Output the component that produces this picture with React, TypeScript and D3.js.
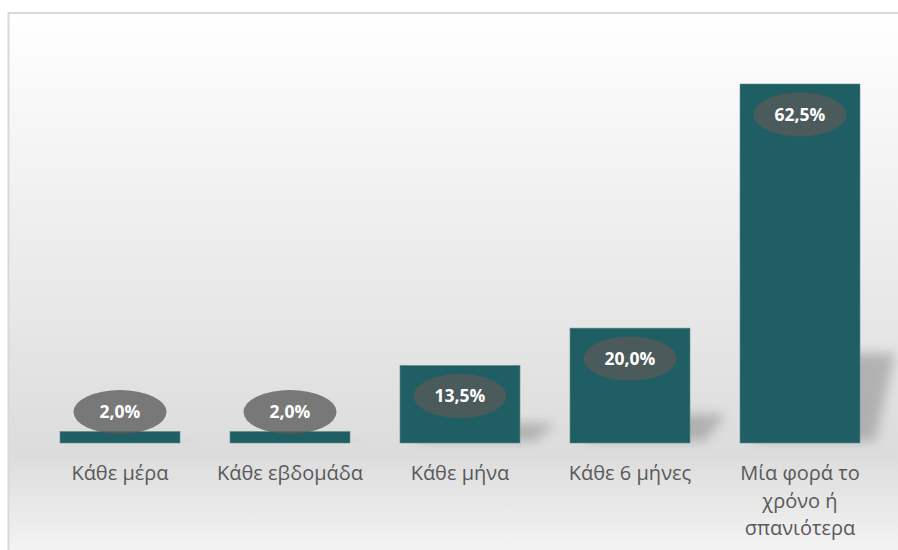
import React from "react";
import * as d3 from "d3";

const categories = ["Κάθε μέρα", "Κάθε εβδομάδα", "Κάθε μήνα", "Κάθε 6 μήνες", "Μία φορά το\nχρόνο ή\nσπανιότερα"];
const values = [2.0, 2.0, 13.5, 20.0, 62.5];
const valueLabels = ["2,0%", "2,0%", "13,5%", "20,0%", "62,5%"];

const W = 898;
const H = 550;

export default function App() {
  const x = d3
    .scaleBand<string>()
    .domain(categories)
    .range([35, 885])
    .paddingInner(50 / 170)
    .paddingOuter(25 / 170);
  const base = 443;
  const y = d3.scaleLinear().domain([0, 62.5]).range([base, 84]);
  const bw = x.bandwidth();

  return (
    <svg
      width={W}
      height={H}
      style={{ position: "absolute", left: 0, top: 0, display: "block" }}
      fontFamily="'Open Sans', sans-serif"
    >
      <defs>
        <linearGradient id="bg" x1="0" y1="0" x2="0" y2="1">
          <stop offset="0" stopColor="#ffffff" />
          <stop offset="0.8" stopColor="#dcdcdc" />
          <stop offset="1" stopColor="#f6f6f6" />
        </linearGradient>
        <filter id="blur" x="-50%" y="-50%" width="200%" height="200%">
          <feGaussianBlur stdDeviation="6" />
        </filter>
      </defs>
      <rect x={8.5} y={13} width={W} height={H} fill="url(#bg)" stroke="#d9d9d9" strokeWidth={2} />
      {categories.map((c, i) => {
        const x0 = x(c)!;
        const top = y(values[i]);
        const h = base - top;
        const sh = h * 0.25;
        const skew = 20;
        const pts = [
          [x0 + 15, base - 2],
          [x0 + bw + 15, base - 2],
          [x0 + bw + 15 + skew, base - sh],
          [x0 + 15 + skew, base - sh],
        ]
          .map((p) => p.join(","))
          .join(" ");
        return (
          <polygon key={"s" + i} points={pts} fill="#8a8a8a" opacity={0.55} filter="url(#blur)" />
        );
      })}
      {categories.map((c, i) => {
        const x0 = x(c)!;
        const top = y(values[i]);
        return (
          <rect
            key={"b" + i}
            x={x0}
            y={top}
            width={bw}
            height={base - top}
            fill="#1f5f63"
            stroke="#5e8c8f"
            strokeWidth={0.6}
          />
        );
      })}
      {categories.map((c, i) => {
        const cx = x(c)! + bw / 2;
        const top = y(values[i]);
        const cy = Math.min(top + 30.5, base - 31);
        return (
          <g key={"l" + i}>
            <ellipse cx={cx} cy={cy} rx={46.5} ry={22} fill="#595959" opacity={0.77} />
            <text
              x={cx}
              y={cy}
              dy="0.35em"
              textAnchor="middle"
              fill="#ffffff"
              fontWeight={700}
              fontSize={17.5}
            >
              {valueLabels[i]}
            </text>
          </g>
        );
      })}
      {categories.map((c, i) => {
        const cx = x(c)! + bw / 2;
        const lines = c.split("\n");
        return (
          <text key={"c" + i} x={cx} y={473} textAnchor="middle" fill="#595959" fontSize={20}>
            {lines.map((ln, j) => (
              <tspan key={j} x={cx} y={473 + j * 27.5} dy="0.35em">
                {ln}
              </tspan>
            ))}
          </text>
        );
      })}
    </svg>
  );
}
